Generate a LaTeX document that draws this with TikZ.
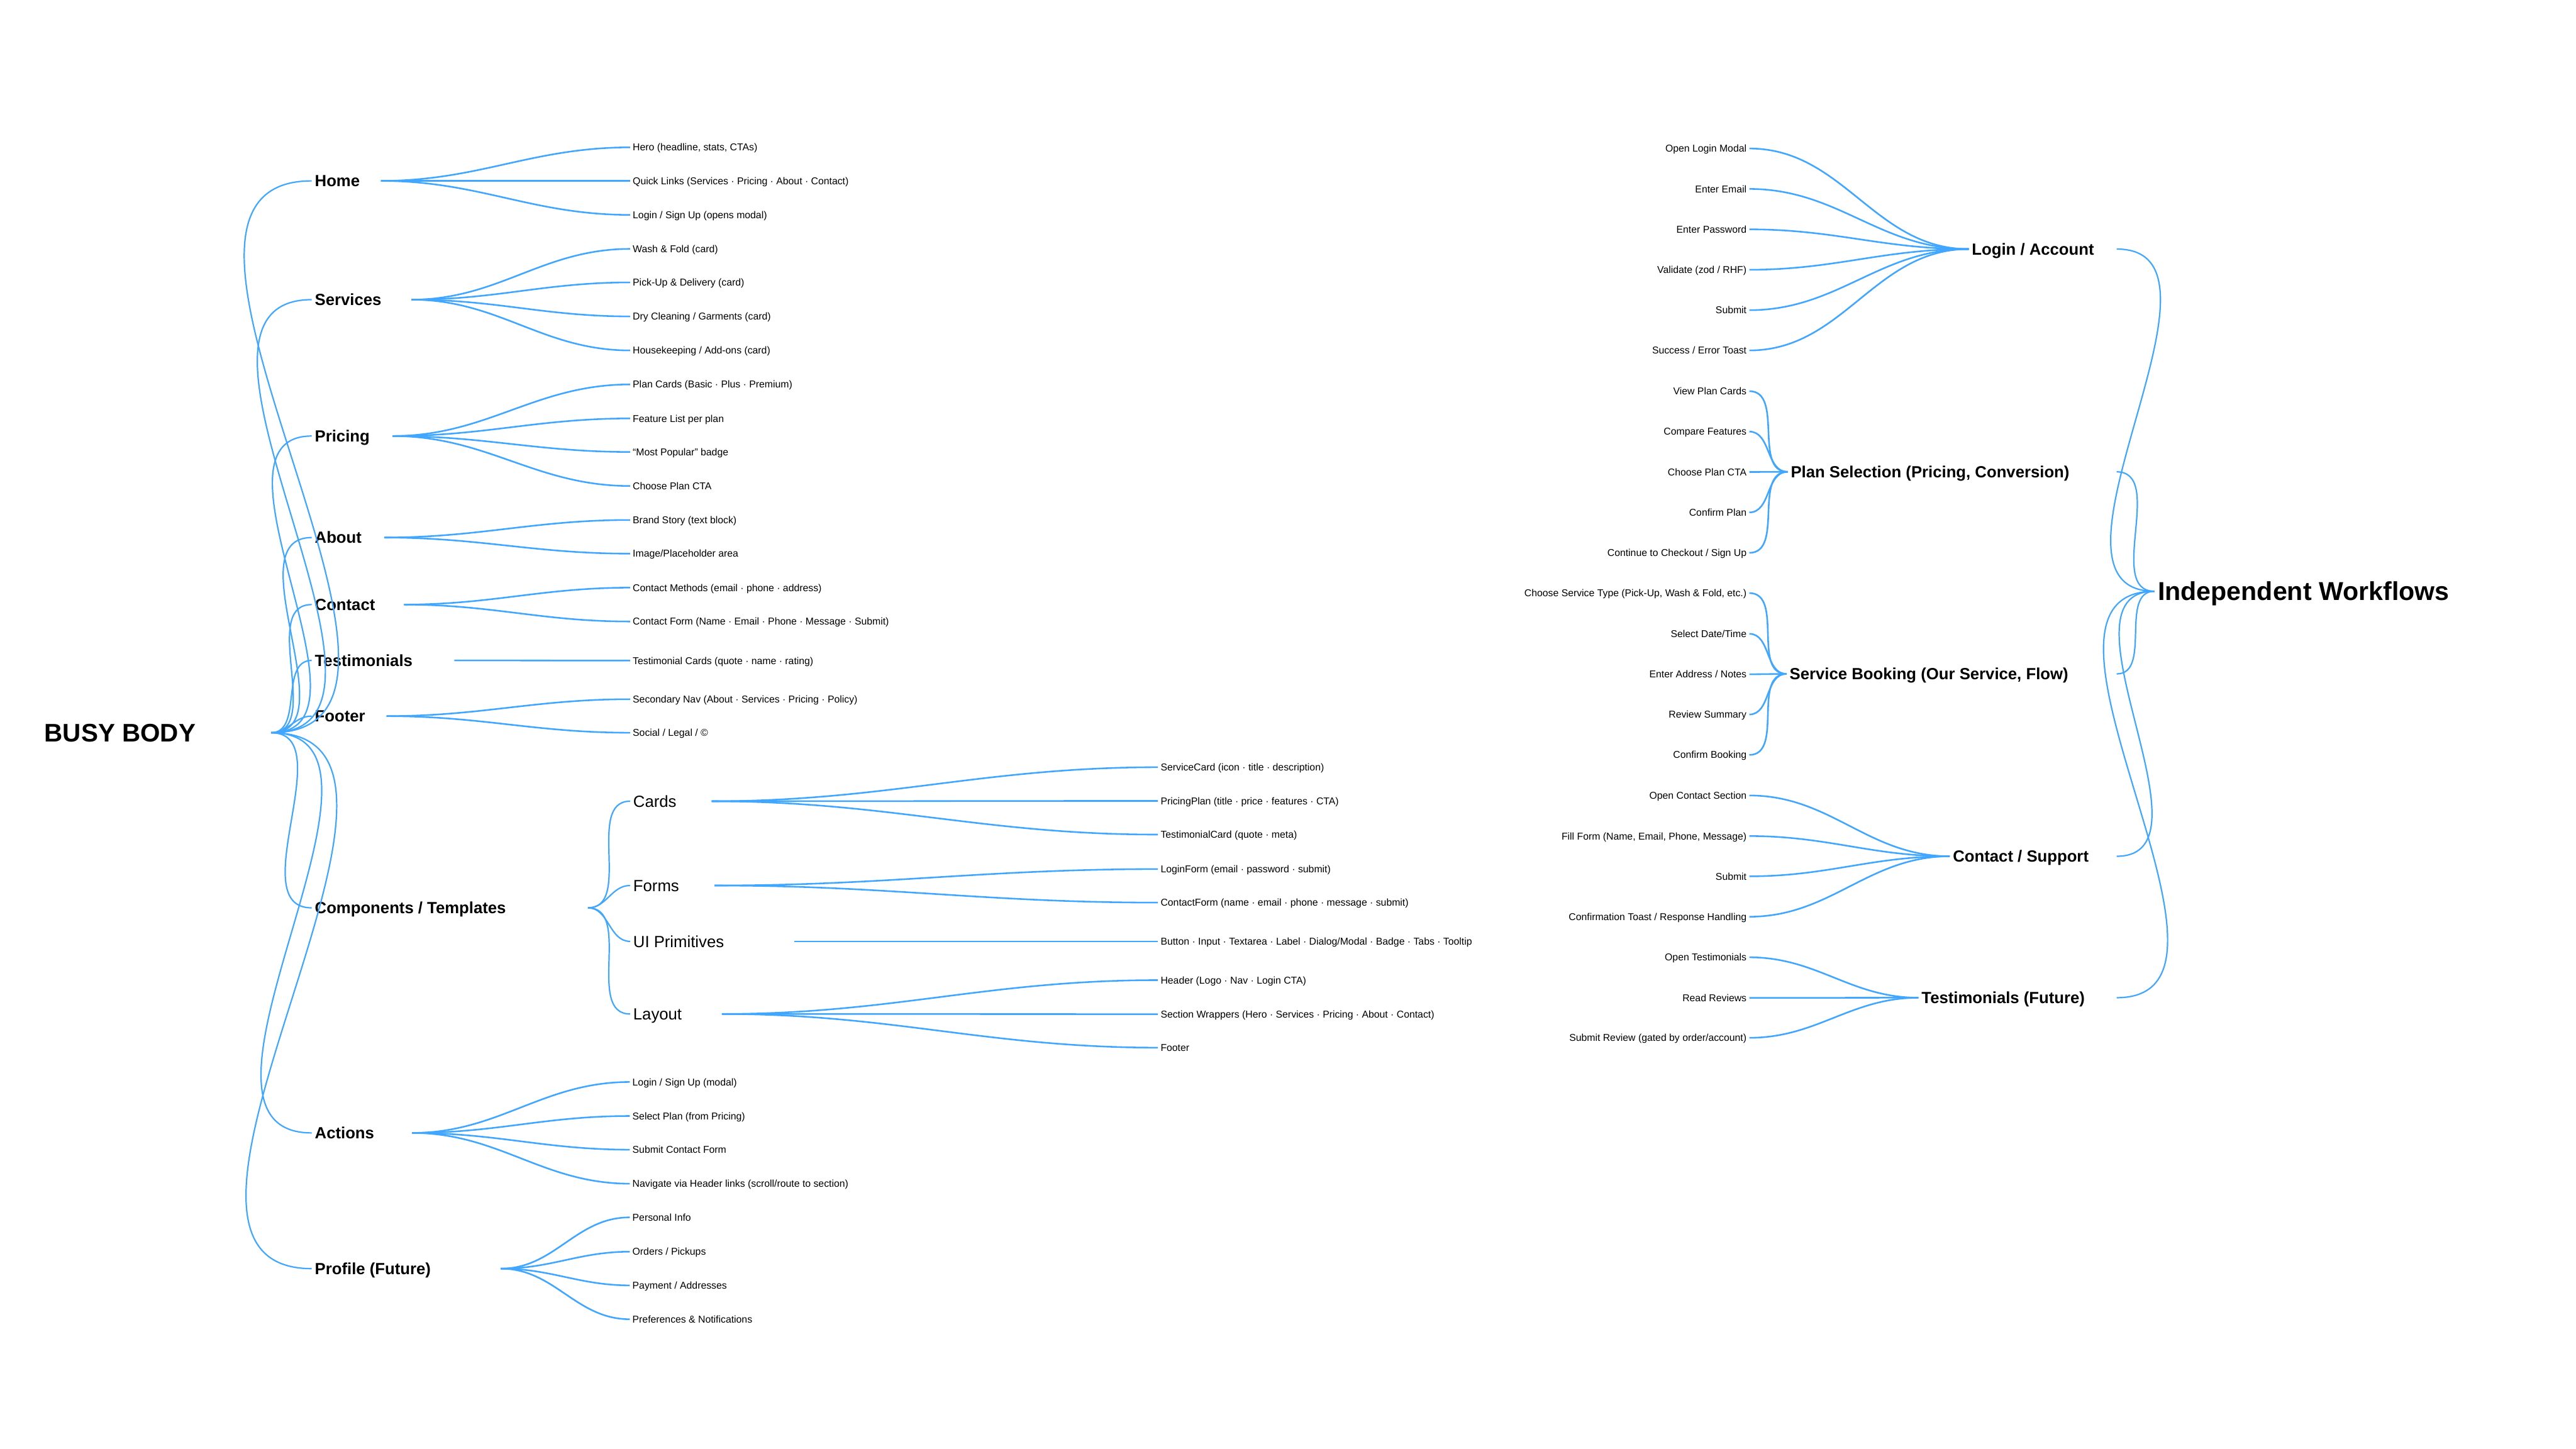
\documentclass[tikz,border=0pt]{standalone}
\usepackage{fontspec}
\setmainfont{Liberation Sans}
\usepackage{xcolor}
\usepackage{tikz}
\usetikzlibrary{positioning}

\definecolor{linkblue}{HTML}{40A6FF}

\begin{document}
\begin{tikzpicture}[
    x=0.025cm, y=-0.025cm,
    rootlabel/.style={font=\fontsize{11}{13}\selectfont\bfseries, inner xsep=1.3pt, inner ysep=0pt, text height=7.9pt, text depth=0pt},
    toplabel/.style={font=\fontsize{7}{8.4}\selectfont\bfseries, inner xsep=1.2pt, inner ysep=0pt, text height=5pt, text depth=0pt},
    sublabel/.style={font=\fontsize{7}{8.4}\selectfont, inner xsep=1.2pt, inner ysep=0pt, text height=5pt, text depth=0pt},
    leaf/.style={font=\fontsize{4.3}{5}\selectfont, inner xsep=1pt, inner ysep=0pt, text height=3.08pt, text depth=0pt},
    link/.style={draw=linkblue, line width=0.6pt, out=0, in=180},
    leaflink/.style={draw=linkblue, line width=0.7pt, out=0, in=180}
]
\useasboundingbox (0,0) rectangle (1568,882);

% Site map (left tree)
\node[rootlabel, anchor=west] (busy) at (25,446) {BUSY BODY};
\coordinate (busy-j) at (165,446);

\node[toplabel, anchor=west] (home) at (189.7,110.1) {Home};
\node[toplabel, anchor=west] (services) at (189.7,182.4) {Services};
\node[toplabel, anchor=west] (pricing) at (189.7,265.4) {Pricing};
\node[toplabel, anchor=west] (about) at (189.7,327.2) {About};
\node[toplabel, anchor=west] (contact) at (189.7,368) {Contact};
\node[toplabel, anchor=west] (testim) at (189.7,402) {Testimonials};
\node[toplabel, anchor=west] (footer) at (189.7,435.9) {Footer};
\node[toplabel, anchor=west] (comps) at (189.7,552.6) {Components / Templates};
\node[toplabel, anchor=west] (actions) at (189.7,689.6) {Actions};
\node[toplabel, anchor=west] (profile) at (189.7,772.2) {Profile (Future)};

\path (busy-j) edge[link] (home.west) edge[link] (services.west) edge[link] (pricing.west)
    edge[link] (about.west) edge[link] (contact.west) edge[link] (testim.west)
    edge[link] (footer.west) edge[link] (comps.west) edge[link] (actions.west)
    edge[link] (profile.west);

\coordinate (home-j) at (231.8,110.1);
\coordinate (services-j) at (250.4,182.4);
\coordinate (pricing-j) at (238.9,265.4);
\coordinate (about-j) at (233.9,327.2);
\coordinate (contact-j) at (245.9,368);
\coordinate (testim-j) at (276.5,402);
\coordinate (footer-j) at (235.3,435.9);
\coordinate (comps-j) at (357.9,552.6);
\coordinate (actions-j) at (250.8,689.6);
\coordinate (profile-j) at (304.8,772.2);

% Home
\node[leaf, anchor=west] (hero) at (383.5,89.7) {Hero (headline, stats, CTAs)};
\node[leaf, anchor=west] (quicklinks) at (383.5,110.1) {Quick Links (Services · Pricing · About · Contact)};
\node[leaf, anchor=west] (loginsignup) at (383.5,130.8) {Login / Sign Up (opens modal)};
\path (home-j) edge[leaflink] (hero.west) edge[leaflink] (quicklinks.west) edge[leaflink] (loginsignup.west);

% Services
\node[leaf, anchor=west] (washfold) at (383.5,151.5) {Wash \& Fold (card)};
\node[leaf, anchor=west] (pickup) at (383.5,171.9) {Pick-Up \& Delivery (card)};
\node[leaf, anchor=west] (drycleaning) at (383.5,192.6) {Dry Cleaning / Garments (card)};
\node[leaf, anchor=west] (housekeeping) at (383.5,213.3) {Housekeeping / Add-ons (card)};
\path (services-j) edge[leaflink] (washfold.west) edge[leaflink] (pickup.west)
    edge[leaflink] (drycleaning.west) edge[leaflink] (housekeeping.west);

% Pricing
\node[leaf, anchor=west] (plancards) at (383.5,234) {Plan Cards (Basic · Plus · Premium)};
\node[leaf, anchor=west] (featurelist) at (383.5,254.7) {Feature List per plan};
\node[leaf, anchor=west] (popular) at (383.5,275.1) {“Most Popular” badge};
\node[leaf, anchor=west] (chooseplan) at (383.5,295.8) {Choose Plan CTA};
\path (pricing-j) edge[leaflink] (plancards.west) edge[leaflink] (featurelist.west)
    edge[leaflink] (popular.west) edge[leaflink] (chooseplan.west);

% About
\node[leaf, anchor=west] (brandstory) at (383.5,316.5) {Brand Story (text block)};
\node[leaf, anchor=west] (imagearea) at (383.5,337) {Image/Placeholder area};
\path (about-j) edge[leaflink] (brandstory.west) edge[leaflink] (imagearea.west);

% Contact
\node[leaf, anchor=west] (contactmethods) at (383.5,357.7) {Contact Methods (email · phone · address)};
\node[leaf, anchor=west] (contactform) at (383.5,378.3) {Contact Form (Name · Email · Phone · Message · Submit)};
\path (contact-j) edge[leaflink] (contactmethods.west) edge[leaflink] (contactform.west);

% Testimonials
\node[leaf, anchor=west] (testimcards) at (383.5,402.1) {Testimonial Cards (quote · name · rating)};
\path (testim-j) edge[leaflink] (testimcards.west);

% Footer
\node[leaf, anchor=west] (secondarynav) at (383.5,425.6) {Secondary Nav (About · Services · Pricing · Policy)};
\node[leaf, anchor=west] (social) at (383.5,446) {Social / Legal / ©};
\path (footer-j) edge[leaflink] (secondarynav.west) edge[leaflink] (social.west);

% Components / Templates
\node[sublabel, anchor=west] (cards) at (383.5,487.7) {Cards};
\node[sublabel, anchor=west] (forms) at (383.5,539) {Forms};
\node[sublabel, anchor=west] (uiprim) at (383.5,573) {UI Primitives};
\node[sublabel, anchor=west] (layout) at (383.5,617.2) {Layout};
\path (comps-j) edge[link] (cards.west) edge[link] (forms.west) edge[link] (uiprim.west) edge[link] (layout.west);

\coordinate (cards-j) at (433.2,487.7);
\coordinate (forms-j) at (434.9,539);
\coordinate (uiprim-j) at (483.5,573);
\coordinate (layout-j) at (439.4,617.2);

\node[leaf, anchor=west] (servicecard) at (704.8,467) {ServiceCard (icon · title · description)};
\node[leaf, anchor=west] (pricingplan) at (704.8,487.5) {PricingPlan (title · price · features · CTA)};
\node[leaf, anchor=west] (testimcard) at (704.8,508) {TestimonialCard (quote · meta)};
\node[leaf, anchor=west] (loginform) at (704.8,529) {LoginForm (email · password · submit)};
\node[leaf, anchor=west] (contactformc) at (704.8,549.4) {ContactForm (name · email · phone · message · submit)};
\node[leaf, anchor=west] (uibuttons) at (704.8,573) {Button · Input · Textarea · Label · Dialog/Modal · Badge · Tabs · Tooltip};
\node[leaf, anchor=west] (header) at (704.8,596.6) {Header (Logo · Nav · Login CTA)};
\node[leaf, anchor=west] (sectionwrap) at (704.8,617.3) {Section Wrappers (Hero · Services · Pricing · About · Contact)};
\node[leaf, anchor=west] (footerc) at (704.8,637.7) {Footer};
\path (cards-j) edge[leaflink] (servicecard.west) edge[leaflink] (pricingplan.west) edge[leaflink] (testimcard.west);
\path (forms-j) edge[leaflink] (loginform.west) edge[leaflink] (contactformc.west);
\path (uiprim-j) edge[leaflink] (uibuttons.west);
\path (layout-j) edge[leaflink] (header.west) edge[leaflink] (sectionwrap.west) edge[leaflink] (footerc.west);

% Actions
\node[leaf, anchor=west] (loginmodal) at (383.3,658.6) {Login / Sign Up (modal)};
\node[leaf, anchor=west] (selectplan) at (383.3,679.3) {Select Plan (from Pricing)};
\node[leaf, anchor=west] (submitcontact) at (383.3,699.8) {Submit Contact Form};
\node[leaf, anchor=west] (navigate) at (383.3,720.5) {Navigate via Header links (scroll/route to section)};
\path (actions-j) edge[leaflink] (loginmodal.west) edge[leaflink] (selectplan.west)
    edge[leaflink] (submitcontact.west) edge[leaflink] (navigate.west);

% Profile (Future)
\node[leaf, anchor=west] (personal) at (383.3,741) {Personal Info};
\node[leaf, anchor=west] (orders) at (383.3,761.9) {Orders / Pickups};
\node[leaf, anchor=west] (payment) at (383.3,782.4) {Payment / Addresses};
\node[leaf, anchor=west] (preferences) at (383.3,803) {Preferences \& Notifications};
\path (profile-j) edge[leaflink] (personal.west) edge[leaflink] (orders.west)
    edge[leaflink] (payment.west) edge[leaflink] (preferences.west);

% Workflows (right tree)
\node[rootlabel, anchor=west, font=\fontsize{11.2}{13}\selectfont\bfseries] (workflows) at (1311.4,359.9) {Independent Workflows};

\node[toplabel, anchor=west] (login) at (1198.3,151.6) {Login / Account};
\node[toplabel, anchor=west] (plansel) at (1088.1,287.2) {Plan Selection (Pricing, Conversion)};
\node[toplabel, anchor=west] (booking) at (1087.4,410.2) {Service Booking (Our Service, Flow)};
\node[toplabel, anchor=west] (support) at (1186.8,521.2) {Contact / Support};
\node[toplabel, anchor=west] (testimfut) at (1167.7,607.3) {Testimonials (Future)};

\coordinate (login-j) at (1288.4,151.6);
\coordinate (plansel-j) at (1288.4,287.2);
\coordinate (booking-j) at (1288.4,410.2);
\coordinate (support-j) at (1288.4,521.2);
\coordinate (testimfut-j) at (1288.4,607.3);
\path (login-j) edge[link] (workflows.west);
\path (plansel-j) edge[link] (workflows.west);
\path (booking-j) edge[link] (workflows.west);
\path (support-j) edge[link] (workflows.west);
\path (testimfut-j) edge[link] (workflows.west);

% Login / Account
\node[leaf, anchor=east] (openlogin) at (1064.8,90.4) {Open Login Modal};
\node[leaf, anchor=east] (enteremail) at (1064.8,115) {Enter Email};
\node[leaf, anchor=east] (enterpw) at (1064.8,139.6) {Enter Password};
\node[leaf, anchor=east] (validate) at (1064.8,164.2) {Validate (zod / RHF)};
\node[leaf, anchor=east] (submitlogin) at (1064.8,188.8) {Submit};
\node[leaf, anchor=east] (toast) at (1064.8,213.3) {Success / Error Toast};
\foreach \n in {openlogin,enteremail,enterpw,validate,submitlogin,toast}
    \path (\n.east) edge[leaflink] (login.west);

% Plan Selection
\node[leaf, anchor=east] (viewplans) at (1064.8,238.1) {View Plan Cards};
\node[leaf, anchor=east] (compare) at (1064.8,262.7) {Compare Features};
\node[leaf, anchor=east] (chooseplancta) at (1064.8,287.3) {Choose Plan CTA};
\node[leaf, anchor=east] (confirmplan) at (1064.8,311.9) {Confirm Plan};
\node[leaf, anchor=east] (checkout) at (1064.8,336.5) {Continue to Checkout / Sign Up};
\foreach \n in {viewplans,compare,chooseplancta,confirmplan,checkout}
    \path (\n.east) edge[leaflink] (plansel.west);

% Service Booking
\node[leaf, anchor=east] (choosetype) at (1064.8,361) {Choose Service Type (Pick-Up, Wash \& Fold, etc.)};
\node[leaf, anchor=east] (selectdate) at (1064.8,385.8) {Select Date/Time};
\node[leaf, anchor=east] (address) at (1064.8,410.4) {Enter Address / Notes};
\node[leaf, anchor=east] (review) at (1064.8,434.9) {Review Summary};
\node[leaf, anchor=east] (confirmbooking) at (1064.8,459.5) {Confirm Booking};
\foreach \n in {choosetype,selectdate,address,review,confirmbooking}
    \path (\n.east) edge[leaflink] (booking.west);

% Contact / Support
\node[leaf, anchor=east] (opencontact) at (1064.8,484.2) {Open Contact Section};
\node[leaf, anchor=east] (fillform) at (1064.8,508.9) {Fill Form (Name, Email, Phone, Message)};
\node[leaf, anchor=east] (submitsupport) at (1064.8,533.4) {Submit};
\node[leaf, anchor=east] (confirmtoast) at (1064.8,558) {Confirmation Toast / Response Handling};
\foreach \n in {opencontact,fillform,submitsupport,confirmtoast}
    \path (\n.east) edge[leaflink] (support.west);

% Testimonials (Future)
\node[leaf, anchor=east] (opentestim) at (1064.8,582.7) {Open Testimonials};
\node[leaf, anchor=east] (readreviews) at (1064.8,607.4) {Read Reviews};
\node[leaf, anchor=east] (submitreview) at (1064.8,631.7) {Submit Review (gated by order/account)};
\foreach \n in {opentestim,readreviews,submitreview}
    \path (\n.east) edge[leaflink] (testimfut.west);

\end{tikzpicture}
\end{document}
